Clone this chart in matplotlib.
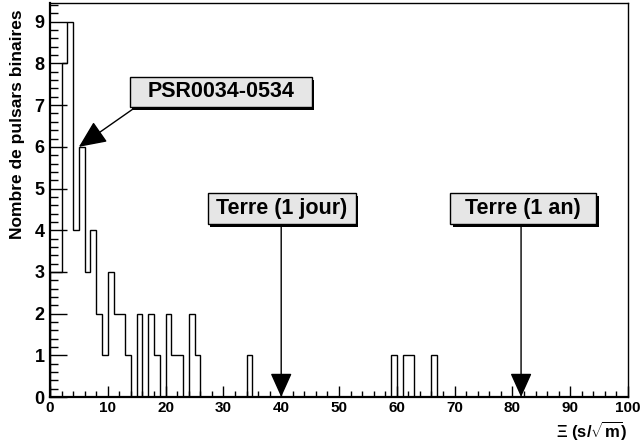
import numpy as np
import matplotlib
matplotlib.use("Agg")
import matplotlib.pyplot as plt
from matplotlib.patches import Rectangle
from matplotlib.ticker import MultipleLocator

plt.rcParams['font.family'] = ['Liberation Sans', 'DejaVu Sans']
plt.rcParams['mathtext.fontset'] = 'custom'
plt.rcParams['mathtext.rm'] = 'Liberation Sans:bold'
plt.rcParams['mathtext.bf'] = 'Liberation Sans:bold'
plt.rcParams['mathtext.it'] = 'Liberation Sans:bold'

# ---- data ----
bin_width = 1.0
x_min, x_max = 0, 100
counts_low = [3, 3, 8, 9, 4, 6, 3, 4, 2, 1, 3, 2, 2, 1, 0, 2, 0, 2, 1, 0,
              2, 1, 1, 0, 2, 1]          # bins 0..25
extra_bins = [34, 59, 61, 62, 66]
extra_counts = [1, 1, 1, 1, 1]

annot_labels = ["PSR0034-0534", "Terre (1 jour)", "Terre (1 an)"]
annot_x = [5.0, 40.0, 81.5]
annot_y = [6.0, 0.0, 0.0]

x_title = r"$\Xi$ (s/$\sqrt{\mathrm{m}}$)"
y_title = "Nombre de pulsars binaires"

# ---- build histogram ----
edges = np.arange(x_min, x_max + bin_width, bin_width)
counts = np.zeros(len(edges) - 1)
counts[:len(counts_low)] = counts_low
for b, c in zip(extra_bins, extra_counts):
    counts[b] = c

W, H = 641, 443
fig = plt.figure(figsize=(W / 100, H / 100), dpi=100)
ax = fig.add_axes([50 / W, 46 / H, 578 / W, 394 / H])
ax.stairs(counts, edges, color='black', lw=1.0, baseline=0)

ax.set_xlim(x_min, x_max)
ax.set_ylim(0, 9.45)

ax.xaxis.set_major_locator(MultipleLocator(10))
ax.xaxis.set_minor_locator(MultipleLocator(2))
ax.yaxis.set_major_locator(MultipleLocator(1))
ax.yaxis.set_minor_locator(MultipleLocator(0.2))
ax.tick_params(axis='x', which='major', direction='in', length=8, width=1,
               labelsize=11, pad=3, top=False)
ax.tick_params(axis='x', which='minor', direction='in', length=4, width=1, top=False)
ax.tick_params(axis='y', which='major', direction='in', length=12.5, width=1,
               labelsize=13, pad=4, right=False)
ax.tick_params(axis='y', which='minor', direction='in', length=6, width=1, right=False)
for lab in ax.get_xticklabels() + ax.get_yticklabels():
    lab.set_fontweight('bold')

for s in ['left', 'bottom']:
    ax.spines[s].set_linewidth(1.6)
for s in ['top', 'right']:
    ax.spines[s].set_linewidth(1.0)

fig.text(628 / W, 1 - 430 / H, x_title, ha='right', va='center',
         fontsize=12, fontweight='bold')
fig.text(18 / W, 1 - 9 / H, y_title, rotation=90, ha='center', va='top',
         fontsize=12.5, fontweight='bold')

# ---- annotation boxes (x0, x1, y0, y1 in data units) ----
boxes = [(13.8, 45.3, 6.96, 7.68), (27.3, 52.9, 4.15, 4.9), (69.2, 94.5, 4.15, 4.9)]
tails = [(14.9, 6.96), (40.0, 4.15), (81.5, 4.15)]
head_scales = [17, 15, 15]

for lab, (bx0, bx1, by0, by1), tail, tx, ty, hs in zip(annot_labels, boxes, tails,
                                                      annot_x, annot_y, head_scales):
    dx, dy = 0.45, 0.07
    ax.add_patch(Rectangle((bx0 + dx, by0 - dy), bx1 - bx0, by1 - by0,
                           facecolor='black', edgecolor='none', zorder=4, clip_on=False))
    ax.add_patch(Rectangle((bx0, by0), bx1 - bx0, by1 - by0,
                           facecolor='#e6e6e6', edgecolor='black', lw=1.0, zorder=5,
                           clip_on=False))
    ax.text((bx0 + bx1) / 2, (by0 + by1) / 2, lab, ha='center', va='center',
            fontsize=15.5, fontweight='bold', zorder=6)
    ax.annotate('', xy=(tx, ty), xytext=tail,
                arrowprops=dict(arrowstyle='-|>,head_length=1.0,head_width=0.45',
                                mutation_scale=hs, color='black', lw=1.0,
                                shrinkA=0, shrinkB=0), zorder=3)

fig.savefig('out.png', dpi=100)
